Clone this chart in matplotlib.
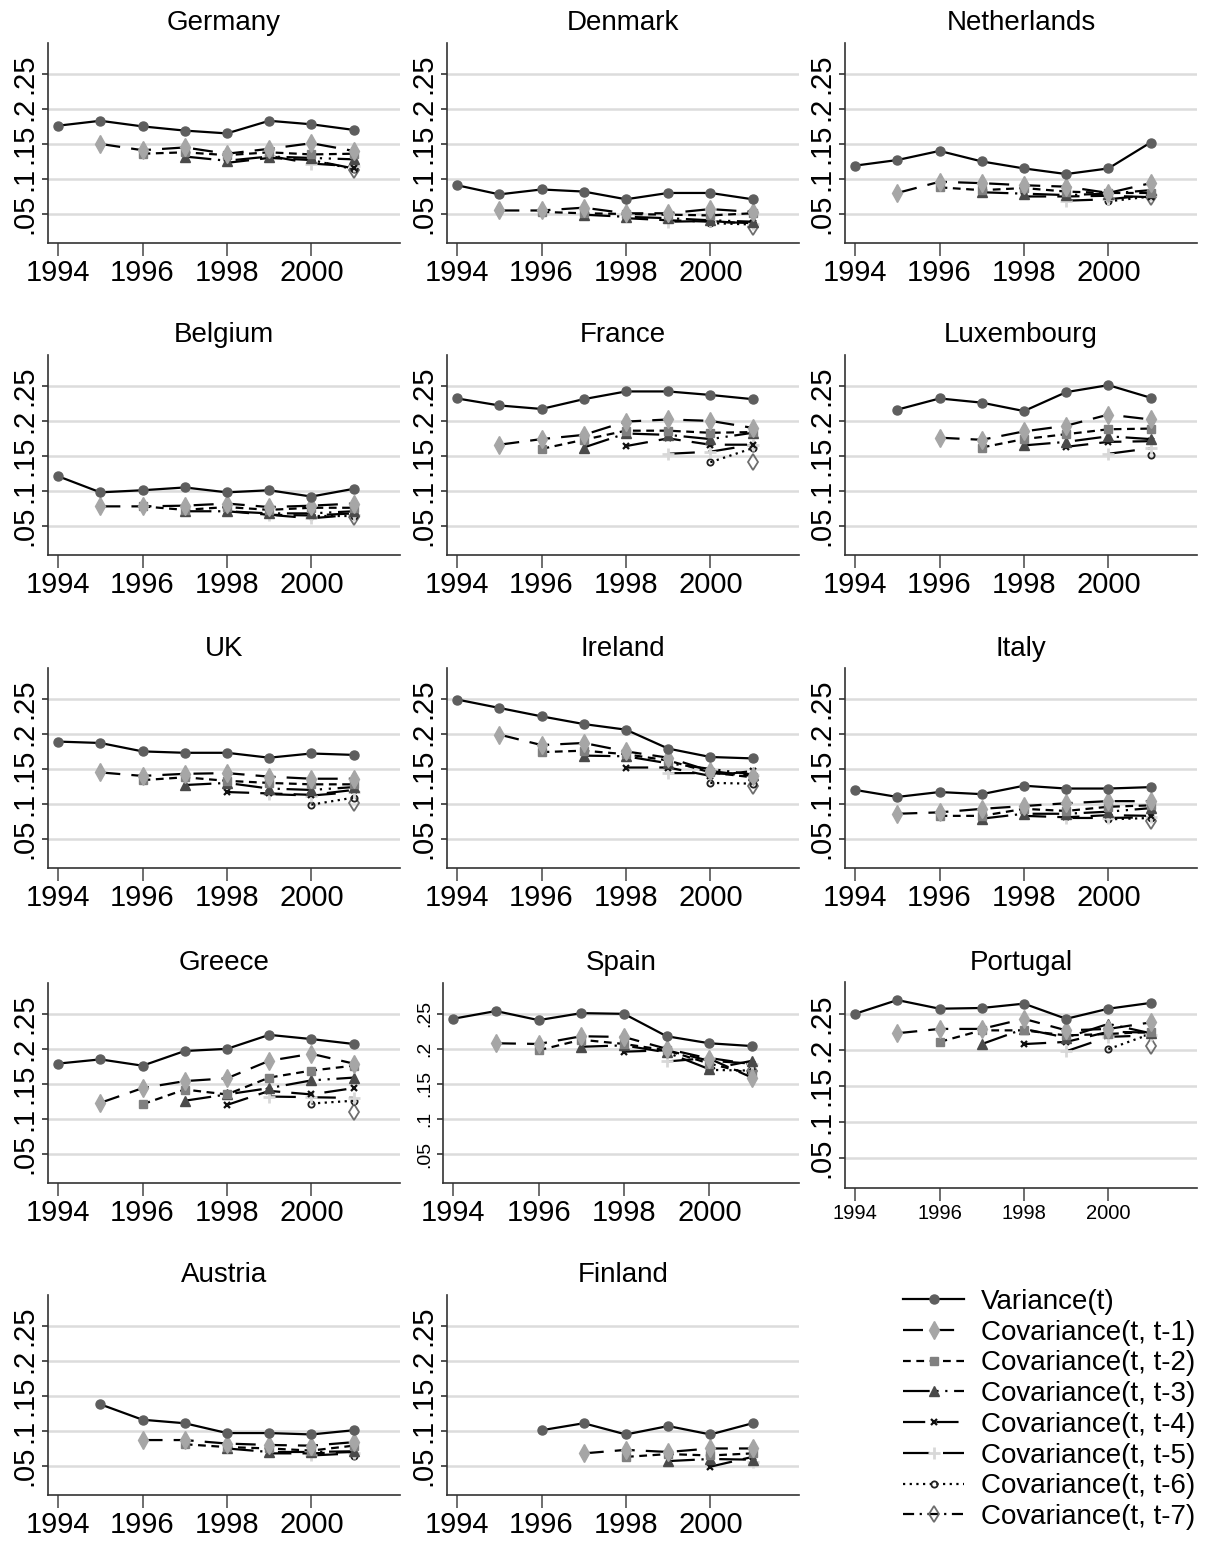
import matplotlib
matplotlib.use("Agg")
import matplotlib.pyplot as plt
from matplotlib.lines import Line2D

plt.rcParams['font.family'] = ['Liberation Sans', 'DejaVu Sans']

# ---------------- data ----------------
countries = ["Germany", "Denmark", "Netherlands", "Belgium", "France", "Luxembourg",
             "UK", "Ireland", "Italy", "Greece", "Spain", "Portugal", "Austria", "Finland"]
start_years = {"Germany": 1994, "Denmark": 1994, "Netherlands": 1994, "Belgium": 1994,
               "France": 1994, "Luxembourg": 1995, "UK": 1994, "Ireland": 1994,
               "Italy": 1994, "Greece": 1994, "Spain": 1994, "Portugal": 1994,
               "Austria": 1995, "Finland": 1996}
last_year = 2001
series_labels = ["Variance(t)", "Covariance(t, t-1)", "Covariance(t, t-2)", "Covariance(t, t-3)",
                 "Covariance(t, t-4)", "Covariance(t, t-5)", "Covariance(t, t-6)", "Covariance(t, t-7)"]
xticks = [1994, 1996, 1998, 2000]
yticks = [0.05, 0.1, 0.15, 0.2, 0.25]
ytick_labels = [".05", ".1", ".15", ".2", ".25"]

# each series k starts at start_year + k and runs to 2001
germany = [
    [0.176, 0.183, 0.175, 0.169, 0.165, 0.183, 0.178, 0.170],
    [0.150, 0.141, 0.145, 0.136, 0.143, 0.151, 0.140],
    [0.136, 0.138, 0.134, 0.138, 0.135, 0.136],
    [0.132, 0.126, 0.132, 0.130, 0.128],
    [0.123, 0.130, 0.127, 0.115],
    [0.133, 0.122, 0.118],
    [0.127, 0.114],
    [0.113],
]
denmark = [
    [0.091, 0.078, 0.085, 0.082, 0.071, 0.080, 0.080, 0.071],
    [0.055, 0.055, 0.059, 0.051, 0.051, 0.057, 0.053],
    [0.053, 0.051, 0.050, 0.049, 0.048, 0.051],
    [0.049, 0.046, 0.044, 0.041, 0.039],
    [0.044, 0.041, 0.039, 0.037],
    [0.039, 0.040, 0.036],
    [0.037, 0.035],
    [0.032],
]
netherlands = [
    [0.119, 0.127, 0.140, 0.125, 0.115, 0.107, 0.115, 0.152],
    [0.080, 0.096, 0.094, 0.091, 0.089, 0.080, 0.094],
    [0.088, 0.084, 0.087, 0.082, 0.080, 0.080],
    [0.081, 0.079, 0.077, 0.079, 0.084],
    [0.075, 0.075, 0.076, 0.074],
    [0.069, 0.071, 0.077],
    [0.068, 0.075],
    [0.074],
]
belgium = [
    [0.121, 0.098, 0.101, 0.105, 0.098, 0.101, 0.092, 0.103],
    [0.078, 0.078, 0.079, 0.082, 0.077, 0.079, 0.082],
    [0.078, 0.073, 0.077, 0.073, 0.076, 0.076],
    [0.071, 0.071, 0.068, 0.068, 0.071],
    [0.071, 0.066, 0.065, 0.068],
    [0.066, 0.061, 0.066],
    [0.064, 0.064],
    [0.063],
]
france = [
    [0.232, 0.222, 0.217, 0.231, 0.242, 0.242, 0.237, 0.231],
    [0.166, 0.174, 0.180, 0.199, 0.202, 0.200, 0.190],
    [0.160, 0.173, 0.186, 0.186, 0.183, 0.184],
    [0.162, 0.182, 0.180, 0.174, 0.183],
    [0.164, 0.175, 0.166, 0.166],
    [0.153, 0.156, 0.166],
    [0.141, 0.161],
    [0.142],
]
luxembourg = [
    [0.216, 0.232, 0.226, 0.214, 0.241, 0.251, 0.233],
    [0.176, 0.173, 0.185, 0.193, 0.209, 0.202],
    [0.162, 0.174, 0.181, 0.188, 0.189],
    [0.165, 0.170, 0.178, 0.174],
    [0.163, 0.170, 0.171],
    [0.153, 0.161],
    [0.152],
]
uk = [
    [0.189, 0.187, 0.175, 0.173, 0.173, 0.166, 0.172, 0.170],
    [0.145, 0.140, 0.143, 0.144, 0.139, 0.136, 0.136],
    [0.134, 0.138, 0.133, 0.130, 0.128, 0.128],
    [0.127, 0.130, 0.122, 0.120, 0.124],
    [0.117, 0.115, 0.113, 0.120],
    [0.114, 0.112, 0.117],
    [0.099, 0.109],
    [0.101],
]
ireland = [
    [0.249, 0.237, 0.225, 0.214, 0.206, 0.179, 0.167, 0.165],
    [0.199, 0.184, 0.187, 0.175, 0.166, 0.147, 0.140],
    [0.174, 0.176, 0.171, 0.162, 0.145, 0.138],
    [0.169, 0.168, 0.158, 0.150, 0.142],
    [0.152, 0.152, 0.140, 0.147],
    [0.144, 0.144, 0.141],
    [0.130, 0.129],
    [0.126],
]
italy = [
    [0.120, 0.110, 0.117, 0.114, 0.126, 0.122, 0.122, 0.124],
    [0.086, 0.088, 0.093, 0.097, 0.101, 0.104, 0.104],
    [0.083, 0.083, 0.093, 0.090, 0.096, 0.098],
    [0.079, 0.086, 0.086, 0.089, 0.094],
    [0.083, 0.081, 0.084, 0.083],
    [0.080, 0.080, 0.081],
    [0.078, 0.080],
    [0.076],
]
greece = [
    [0.179, 0.185, 0.176, 0.197, 0.200, 0.220, 0.214, 0.207],
    [0.123, 0.144, 0.154, 0.158, 0.183, 0.193, 0.179],
    [0.121, 0.142, 0.135, 0.159, 0.169, 0.176],
    [0.126, 0.135, 0.144, 0.155, 0.159],
    [0.120, 0.140, 0.135, 0.144],
    [0.132, 0.131, 0.130],
    [0.122, 0.126],
    [0.110],
]
spain = [
    [0.243, 0.254, 0.241, 0.251, 0.250, 0.218, 0.208, 0.204],
    [0.208, 0.207, 0.218, 0.217, 0.200, 0.186, 0.159],
    [0.198, 0.213, 0.207, 0.198, 0.179, 0.164],
    [0.203, 0.205, 0.195, 0.171, 0.183],
    [0.196, 0.198, 0.183, 0.179],
    [0.182, 0.187, 0.178],
    [0.170, 0.169],
    [0.168],
]
portugal = [
    [0.250, 0.269, 0.257, 0.258, 0.264, 0.243, 0.257, 0.265],
    [0.223, 0.229, 0.229, 0.243, 0.227, 0.229, 0.238],
    [0.211, 0.227, 0.227, 0.220, 0.222, 0.225],
    [0.208, 0.229, 0.217, 0.236, 0.223],
    [0.208, 0.211, 0.225, 0.224],
    [0.198, 0.218, 0.220],
    [0.201, 0.222],
    [0.205],
]
austria = [
    [0.138, 0.116, 0.111, 0.097, 0.097, 0.095, 0.101],
    [0.087, 0.087, 0.082, 0.080, 0.079, 0.084],
    [0.081, 0.077, 0.075, 0.072, 0.079],
    [0.075, 0.070, 0.070, 0.071],
    [0.068, 0.068, 0.070],
    [0.065, 0.068],
    [0.064],
]
finland = [
    [0.101, 0.111, 0.095, 0.107, 0.095, 0.111],
    [0.068, 0.073, 0.070, 0.075, 0.075],
    [0.063, 0.067, 0.065, 0.068],
    [0.057, 0.060, 0.059],
    [0.049, 0.063],
    [0.055],
]
panel_data = {"Germany": germany, "Denmark": denmark, "Netherlands": netherlands,
              "Belgium": belgium, "France": france, "Luxembourg": luxembourg,
              "UK": uk, "Ireland": ireland, "Italy": italy, "Greece": greece,
              "Spain": spain, "Portugal": portugal, "Austria": austria, "Finland": finland}

# ---------------- styles ----------------
styles = [
    dict(ls='-', marker='o', mfc='#5e5e5e', mec='#5e5e5e', ms=6.5),
    dict(ls=(0, (9, 5)), marker='d', mfc='#a6a6a6', mec='#a6a6a6', ms=9),
    dict(ls=(0, (3.5, 2.5)), marker='s', mfc='#808080', mec='#808080', ms=6),
    dict(ls=(0, (12, 3, 1, 3, 1, 3)), marker='^', mfc='#4a4a4a', mec='#4a4a4a', ms=7),
    dict(ls=(0, (10, 5)), marker='x', mfc='#111111', mec='#111111', ms=5, mew=1.6),
    dict(ls=(0, (12, 6)), marker='+', mfc='#d8d8d8', mec='#d8d8d8', ms=9, mew=2),
    dict(ls=(0, (1, 2)), marker='o', mfc='none', mec='#222222', ms=4.5, mew=1.3),
    dict(ls=(0, (5, 2.5, 1, 2.5)), marker='d', mfc='none', mec='#6e6e6e', ms=8, mew=1.3),
]

W, H = 1213, 1541
fig = plt.figure(figsize=(W / 100, H / 100), dpi=100)

col_left = [48, 447, 845]
row_top = [43, 355, 668, 983, 1295]
AW, AH = 352, 200

for i, c in enumerate(countries):
    r, col = divmod(i, 3)
    left, top, aw, ah = col_left[col], row_top[r], AW, AH
    if c == "Spain":
        left, aw = 443, 356
    if c == "Portugal":
        top, ah = 982, 206
    ax = fig.add_axes([left / W, 1 - (top + ah) / H, aw / W, ah / H])
    s0 = start_years[c]
    for k, vals in enumerate(panel_data[c]):
        yrs = list(range(s0 + k, s0 + k + len(vals)))
        st = styles[k]
        ax.plot(yrs, vals, color='black', lw=1.6, ls=st['ls'], marker=st['marker'],
                mfc=st['mfc'], mec=st['mec'], ms=st['ms'], mew=st.get('mew', 1.0),
                dash_capstyle='butt', zorder=3 + (7 - k) * 0.1)
    ax.set_xlim(1993.76, 2002.1)
    ax.set_ylim(0.0086, 0.294)
    ax.set_xticks(xticks)
    ax.set_xticklabels([str(t) for t in xticks])
    ax.set_yticks(yticks)
    ax.set_yticklabels(ytick_labels)
    ax.yaxis.grid(True, color='#dcdcdc', lw=1.8)
    ax.set_axisbelow(True)
    for sp in ['top', 'right']:
        ax.spines[sp].set_visible(False)
    for sp in ['left', 'bottom']:
        ax.spines[sp].set_color('#333333')
        ax.spines[sp].set_linewidth(1.2)
    xfs = 14.5 if c == "Portugal" else 21
    yfs = 14 if c == "Spain" else 21
    ax.tick_params(axis='x', length=9, width=1.2, color='#555555', labelsize=xfs, pad=2.5)
    ax.tick_params(axis='y', length=4, width=1.2, color='#333333', labelsize=yfs,
                   labelrotation=90, pad=3)
    for lab in ax.get_yticklabels():
        lab.set_va('center')
    ax.set_title(c, fontsize=20, pad=9)

handles = []
for k, st in enumerate(styles):
    handles.append(Line2D([0], [0], color='black', lw=1.6, ls=st['ls'], marker=st['marker'],
                          mfc=st['mfc'], mec=st['mec'], ms=st['ms'], mew=st.get('mew', 1.0)))
fig.legend(handles, series_labels, loc='upper left', bbox_to_anchor=(903 / W, 1 - 1289 / H),
           frameon=False, fontsize=20, handlelength=2.2, handletextpad=0.6,
           labelspacing=0.17, borderaxespad=0, borderpad=0)

fig.savefig("out.png", dpi=100)
